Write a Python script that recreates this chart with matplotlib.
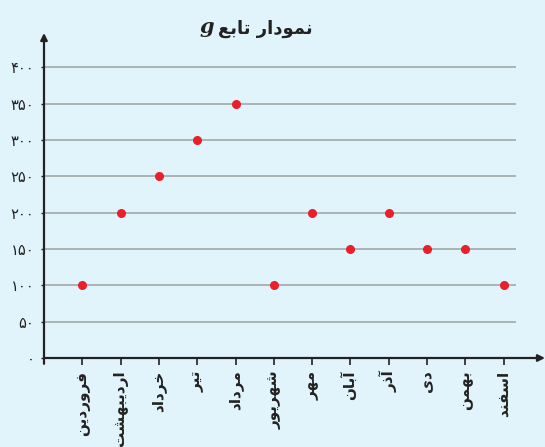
import matplotlib
matplotlib.use('Agg')
import matplotlib.pyplot as plt

# month names (Persian calendar) and values of g
months = ['فروردین', 'اردیبهشت', 'خرداد', 'تیر', 'مرداد', 'شهریور',
          'مهر', 'آبان', 'آذر', 'دی', 'بهمن', 'اسفند']
values = [100, 200, 250, 300, 350, 100, 200, 150, 200, 150, 150, 100]
y_ticks = [0, 50, 100, 150, 200, 250, 300, 350, 400]
title_fa = 'نمودار تابع'

# presentation forms: (isolated, final, initial, medial)
FORMS = {
    '\u0627': (0xFE8D, 0xFE8E, None, None),
    '\u0622': (0xFE81, 0xFE82, None, None),
    '\u0628': (0xFE8F, 0xFE90, 0xFE91, 0xFE92),
    '\u062A': (0xFE95, 0xFE96, 0xFE97, 0xFE98),
    '\u062E': (0xFEA5, 0xFEA6, 0xFEA7, 0xFEA8),
    '\u062F': (0xFEA9, 0xFEAA, None, None),
    '\u0630': (0xFEAB, 0xFEAC, None, None),
    '\u0631': (0xFEAD, 0xFEAE, None, None),
    '\u0633': (0xFEB1, 0xFEB2, 0xFEB3, 0xFEB4),
    '\u0634': (0xFEB5, 0xFEB6, 0xFEB7, 0xFEB8),
    '\u0639': (0xFEC9, 0xFECA, 0xFECB, 0xFECC),
    '\u0641': (0xFED1, 0xFED2, 0xFED3, 0xFED4),
    '\u0645': (0xFEE1, 0xFEE2, 0xFEE3, 0xFEE4),
    '\u0646': (0xFEE5, 0xFEE6, 0xFEE7, 0xFEE8),
    '\u0647': (0xFEE9, 0xFEEA, 0xFEEB, 0xFEEC),
    '\u0648': (0xFEED, 0xFEEE, None, None),
    '\u06CC': (0xFEEF, 0xFEF0, 0xFEF3, 0xFEF4),
}


def shape(text):
    # matplotlib has no arabic shaping, so pick the joined forms by hand
    text = text.replace('\u064A', '\u06CC')
    out = []
    for i, ch in enumerate(text):
        if ch not in FORMS:
            out.append(ch)
            continue
        iso, fin, ini, med = FORMS[ch]
        prev_joins = i > 0 and text[i - 1] in FORMS and FORMS[text[i - 1]][2] is not None
        next_ok = i < len(text) - 1 and text[i + 1] in FORMS and ini is not None
        if prev_joins and next_ok:
            f = med
        elif prev_joins:
            f = fin
        elif next_ok:
            f = ini
        else:
            f = iso
        out.append(chr(f))
    return ''.join(reversed(out))


def fa_digits(n):
    return ''.join(chr(0x06F0 + int(d)) for d in str(n))


plt.rcParams['font.family'] = ['DejaVu Sans']
bg = '#e1f3fb'
axis_col = '#222222'

fig = plt.figure(figsize=(5.45, 4.47), dpi=100, facecolor=bg)
ax = fig.add_axes([44 / 545, 89 / 447, 501 / 545, 325 / 447])
ax.set_facecolor(bg)
ax.set_xlim(0, 13.08)
ax.set_ylim(0, 447)
for s in ax.spines.values():
    s.set_visible(False)

x = list(range(1, len(months) + 1))

# grid lines
ax.hlines(y_ticks[1:], 0, 12.32, color='#a8aeb1', lw=1.3, zorder=1)

# axes with arrows
ax.annotate('', xy=(13.08, 0), xytext=(0, 0), annotation_clip=False,
            arrowprops=dict(arrowstyle='-|>', color=axis_col, lw=1.6,
                            mutation_scale=10, shrinkA=0, shrinkB=0))
ax.annotate('', xy=(0, 447), xytext=(0, -8), annotation_clip=False,
            arrowprops=dict(arrowstyle='-|>', color=axis_col, lw=1.6,
                            mutation_scale=10, shrinkA=0, shrinkB=0))

ax.plot(x, values, 'o', color='#e8202a', markersize=5.5, zorder=3, clip_on=False)

ax.set_yticks(y_ticks, labels=[fa_digits(v) for v in y_ticks])
ax.set_xticks(x, labels=[shape(m) for m in months], rotation=90)
ax.tick_params(axis='y', length=2, width=1, color=axis_col, pad=5,
               labelsize=10.5, labelcolor=axis_col)
ax.tick_params(axis='x', length=5, width=1.2, color=axis_col, pad=4,
               labelsize=11, labelcolor=axis_col)
for lbl in ax.get_xticklabels():
    lbl.set_fontweight('bold')

# title: persian words plus italic g
fig.text(218 / 545, 1 - 29 / 447, shape(title_fa), ha='left', va='center',
         fontsize=13, fontweight='bold', color=axis_col)
fig.text(214 / 545, 1 - 27 / 447, 'g', ha='right', va='center',
         fontsize=15, fontweight='bold', fontstyle='italic',
         family='DejaVu Serif', color=axis_col)

fig.savefig('out.png', dpi=100, facecolor=bg)
